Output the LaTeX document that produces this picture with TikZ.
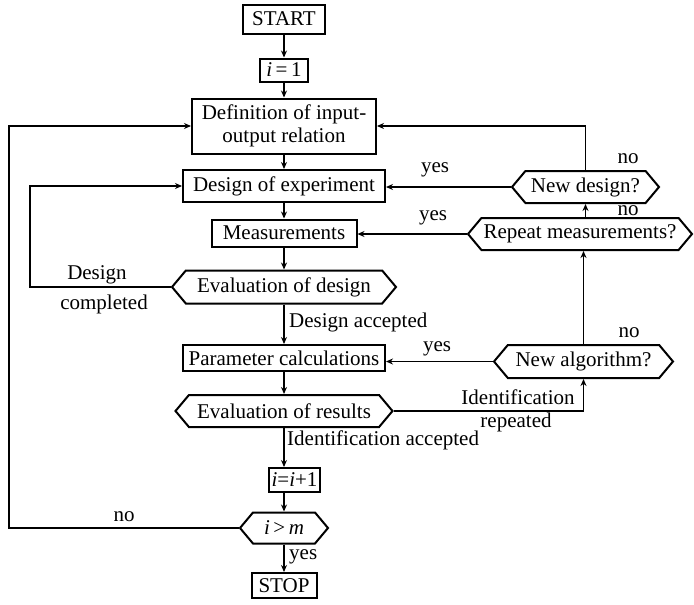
\documentclass[tikz,border=0pt]{standalone}
\usepackage{fontspec}
\setmainfont{Liberation Serif}
\usetikzlibrary{shapes.symbols,arrows.meta}
\begin{document}
\begin{tikzpicture}[x=1pt,y=-1pt,
  every node/.style={font=\fontsize{21}{23}\selectfont},
  box/.style={draw,line width=2pt,rectangle,inner sep=0pt},
  hexa/.style={draw,line width=2pt,signal,signal to=west and east,signal pointer angle=100,inner sep=0pt},
  lbl/.style={inner sep=0pt},
  conn/.style={line width=1.6pt},
  arr/.style={conn,-{Stealth[length=7pt,width=6pt]}}
]
\useasboundingbox (0,0) rectangle (694,605);
% main column
\node[box,minimum width=82,minimum height=29] (start) at (284,19) {START};
\node[box,minimum width=48,minimum height=23] (i1) at (284,70) {\textit{i}\,=\,1};
\node[box,minimum width=184,minimum height=55,align=center] (def) at (284,126) {Definition of input-\\output relation};
\node[box,minimum width=202,minimum height=32] (doe) at (284,186) {Design of experiment};
\node[box,minimum width=145,minimum height=27] (meas) at (284,233) {Measurements};
\node[hexa,minimum width=224,minimum height=33] (evd) at (284,287) {Evaluation of design};
\node[box,minimum width=202,minimum height=26] (par) at (284,358) {Parameter calculations};
\node[hexa,minimum width=217,minimum height=32] (evr) at (284,411) {Evaluation of results};
\node[box,minimum width=51,minimum height=24] (ii1) at (294.5,480) {\textit{i}=\textit{i}+1};
\node[hexa,minimum width=88,minimum height=31] (igm) at (284,528) {\textit{i}\,>\,\textit{m}};
\node[box,minimum width=65,minimum height=25] (stop) at (284,585.5) {STOP};
% right column
\node[hexa,minimum width=147,minimum height=32] (nd) at (585.5,187) {New design?};
\node[hexa,minimum width=224,minimum height=32] (rm) at (580,234) {Repeat measurements?};
\node[hexa,minimum width=179,minimum height=33] (na) at (583.5,361.5) {New algorithm?};
% loop corners
\coordinate (lx1) at (30,287);
\coordinate (lx2) at (9,528);
% main flow
\draw[arr] (start) -- (i1);
\draw[arr] (i1) -- (def);
\draw[arr] (def) -- (doe);
\draw[arr] (doe) -- (meas);
\draw[arr] (meas) -- (evd);
\draw[arr] (evd) -- (par);
\draw[arr] (par) -- (evr);
\draw[arr] (evr.south) -- (evr.south |- ii1.north);
\draw[arr] (igm.north |- ii1.south) -- (igm.north);
\draw[arr] (igm) -- (stop);
% left loops
\draw[arr] (evd.west) -- (evd.west -| lx1) |- (doe.west);
\draw[arr] (igm.west) -- (igm.west -| lx2) |- (def.west);
% right side
\draw[arr] (nd.west) -- (nd.west -| doe.east);
\draw[arr] (rm.west) -- (rm.west -| meas.east);
\draw[arr] (na.west) -- (na.west -| par.east);
\draw[arr] (nd.north) |- (def.east);
\draw[arr] (nd.south |- rm.north) -- (nd.south);
\draw[arr] (na.north) -- (na.north |- rm.south);
\draw[arr] (evr.east) -| (na.south);
% labels
\node[lbl] (l1) at (97,275) {Design};
\node[lbl] (l2) at (104,304) {completed};
\node[lbl,anchor=west] (l3) at (289,322) {Design accepted};
\node[lbl] (l4) at (124,517) {no};
\node[lbl,anchor=west] (l5) at (289,557) {yes};
\node[lbl,anchor=west] (l6) at (287,440) {Identification accepted};
\node[lbl] (l7) at (435,170) {yes};
\node[lbl] (l8) at (628,159) {no};
\node[lbl] (l9) at (433,218) {yes};
\node[lbl] (l10) at (628,211) {no};
\node[lbl] (l11) at (629,333) {no};
\node[lbl] (l12) at (437,349) {yes};
\node[lbl] (l13) at (518,397) {Identification};
\node[lbl] (l14) at (516,422) {repeated};
\end{tikzpicture}
\end{document}
